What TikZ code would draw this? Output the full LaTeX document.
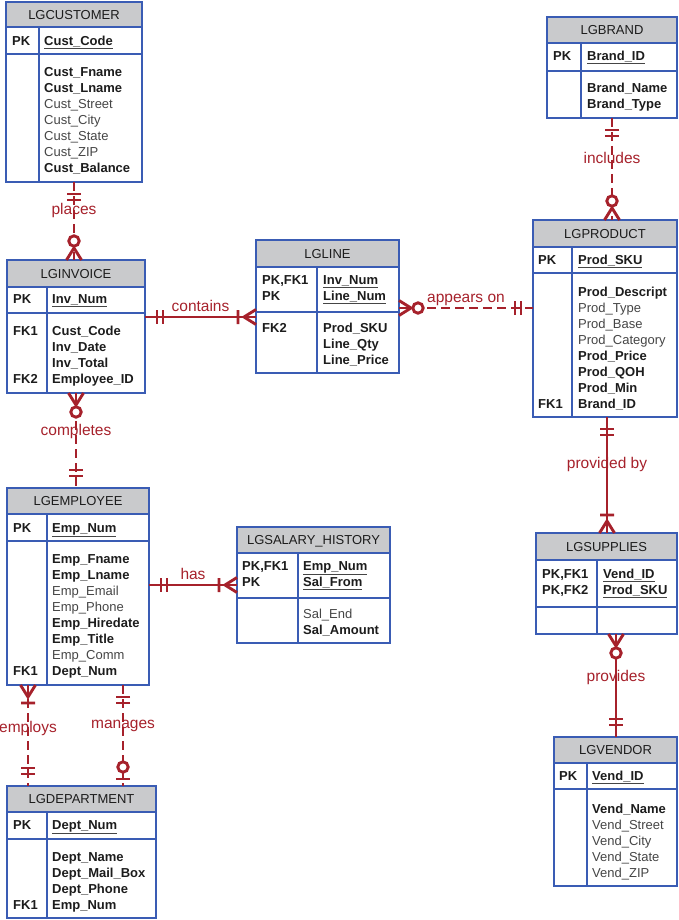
\documentclass[tikz,border=0pt]{standalone}
\usepackage{fontspec}
\setmainfont{Liberation Sans}
\definecolor{ebl}{HTML}{3A5CB4}
\definecolor{hdr}{HTML}{C9CACC}
\definecolor{relred}{HTML}{A6212B}
\definecolor{txt}{HTML}{1C1C1C}
\definecolor{attgray}{HTML}{454545}
\newcommand{\bd}[1]{\textbf{\color{txt}#1}}
\newcommand{\pkey}[1]{\underline{\textbf{\color{txt}#1}}}
% frame of a table: x1, top, x2, header bottom, key bottom, bottom, divider
\newcommand{\tablebox}[7]{%
  \draw[ebox,fill=hdr] (#1,#2) rectangle (#3,#4);
  \draw[ebox] (#1,#4) rectangle (#3,#6);
  \draw[ebox] (#1,#5) -- (#3,#5) (#7,#4) -- (#7,#6);}
% line ends: point at the table edge, direction away from it
\newcommand{\oneonly}[2]{\begin{scope}[shift={(#1)},rotate=#2]
  \draw[rel] (12,-7) -- (12,7) (18,-7) -- (18,7);
\end{scope}}
\newcommand{\onemany}[2]{\begin{scope}[shift={(#1)},rotate=#2]
  \draw[rel] (0,-7.5) -- (12,0) -- (0,7.5) (18,-7) -- (18,7);
\end{scope}}
\newcommand{\zeromany}[2]{\begin{scope}[shift={(#1)},rotate=#2]
  \draw[rel] (0,-7.5) -- (12,0) -- (0,7.5);
  \draw[rel,fill=white] (19,0) circle [radius=5.2pt];
\end{scope}}
\newcommand{\zeroone}[2]{\begin{scope}[shift={(#1)},rotate=#2]
  \draw[rel] (7,-7) -- (7,7);
  \draw[rel,fill=white] (19,0) circle [radius=5.2pt];
\end{scope}}
\tikzset{
  ebox/.style={draw=ebl,line width=1.9pt},
  title/.style={anchor=base,inner sep=0pt,font=\fontsize{13}{16}\selectfont,text=txt},
  key/.style={anchor=base west,inner sep=0pt,font=\fontsize{13}{16}\selectfont\bfseries,text=txt},
  att/.style={anchor=base west,inner sep=0pt,font=\fontsize{13}{16}\selectfont,text=attgray},
  rel/.style={draw=relred,line width=2.9pt},
  nonid/.style={rel,dash pattern=on 9pt off 5pt},
  lbl/.style={font=\fontsize{15.5}{18}\selectfont,text=relred,inner sep=1pt},
  lblup/.style={lbl,anchor=base,yshift=6pt},
}
\begin{document}
\begin{tikzpicture}[x=1pt,y=-1pt]
\useasboundingbox (0,0) rectangle (679,920);

% LGCUSTOMER
\tablebox{6}{2}{142}{27}{54}{182}{39}
\node[title] (cust) at (74,19.2) {LGCUSTOMER};
\node[key] (cust-k) at (12,45.5) {PK};
\node[att] (cust-p) at (44,45.5) {\pkey{Cust\_Code}};
\foreach \t [count=\i from 0] in {\bd{Cust\_Fname},\bd{Cust\_Lname},Cust\_Street,Cust\_City,Cust\_State,Cust\_ZIP,\bd{Cust\_Balance}}
  \node[att] (cust-a\i) at (44,76.5+16*\i) {\t};

% LGINVOICE
\tablebox{7}{260}{145}{287}{313}{393}{47}
\node[title] (inv) at (76,278.2) {LGINVOICE};
\node[key] (inv-k) at (13,303.5) {PK};
\node[att] (inv-p) at (52,303.5) {\pkey{Inv\_Num}};
\node[key] (inv-f1) at (13,335.5) {FK1};
\node[key] (inv-f2) at (13,383.5) {FK2};
\foreach \t [count=\i from 0] in {\bd{Cust\_Code},\bd{Inv\_Date},\bd{Inv\_Total},\bd{Employee\_ID}}
  \node[att] (inv-a\i) at (52,335.5+16*\i) {\t};

% LGLINE
\tablebox{256}{240}{399}{267}{312}{373}{317}
\node[title] (line) at (327.5,258.2) {LGLINE};
\node[key] (line-k1) at (262,284.5) {PK,FK1};
\node[key] (line-k2) at (262,300.5) {PK};
\node[att] (line-p1) at (323,284.5) {\pkey{Inv\_Num}};
\node[att] (line-p2) at (323,300.5) {\pkey{Line\_Num}};
\node[key] (line-f2) at (262,332.5) {FK2};
\foreach \t [count=\i from 0] in {\bd{Prod\_SKU},\bd{Line\_Qty},\bd{Line\_Price}}
  \node[att] (line-a\i) at (323,332.5+16*\i) {\t};

% LGBRAND
\tablebox{547}{17}{677}{43}{71}{118}{581}
\node[title] (brand) at (612,34.7) {LGBRAND};
\node[key] (brand-k) at (553,60.5) {PK};
\node[att] (brand-p) at (587,60.5) {\pkey{Brand\_ID}};
\foreach \t [count=\i from 0] in {\bd{Brand\_Name},\bd{Brand\_Type}}
  \node[att] (brand-a\i) at (587,92.5+16*\i) {\t};

% LGPRODUCT
\tablebox{533}{220}{677}{247}{273}{417}{572}
\node[title] (prod) at (605,238.2) {LGPRODUCT};
\node[key] (prod-k) at (538,264) {PK};
\node[att] (prod-p) at (578,264) {\pkey{Prod\_SKU}};
\node[key] (prod-f1) at (538,408) {FK1};
\foreach \t [count=\i from 0] in {\bd{Prod\_Descript},Prod\_Type,Prod\_Base,Prod\_Category,\bd{Prod\_Price},\bd{Prod\_QOH},\bd{Prod\_Min},\bd{Brand\_ID}}
  \node[att] (prod-a\i) at (578,296+16*\i) {\t};

% LGSUPPLIES
\tablebox{536}{533}{677}{560}{607}{634}{597}
\node[title] (sup) at (606.5,551.2) {LGSUPPLIES};
\node[key] (sup-k1) at (542,578) {PK,FK1};
\node[key] (sup-k2) at (542,594) {PK,FK2};
\node[att] (sup-p1) at (603,578) {\pkey{Vend\_ID}};
\node[att] (sup-p2) at (603,594) {\pkey{Prod\_SKU}};

% LGVENDOR
\tablebox{554}{737}{677}{763}{789}{886}{587}
\node[title] (vend) at (615.5,754.7) {LGVENDOR};
\node[key] (vend-k) at (559,780.5) {PK};
\node[att] (vend-p) at (592,780.5) {\pkey{Vend\_ID}};
\foreach \t [count=\i from 0] in {\bd{Vend\_Name},Vend\_Street,Vend\_City,Vend\_State,Vend\_ZIP}
  \node[att] (vend-a\i) at (592,813+16*\i) {\t};

% LGEMPLOYEE
\tablebox{7}{488}{149}{514}{541}{685}{47}
\node[title] (emp) at (78,505.7) {LGEMPLOYEE};
\node[key] (emp-k) at (13,532) {PK};
\node[att] (emp-p) at (52,532) {\pkey{Emp\_Num}};
\node[key] (emp-f1) at (13,675.5) {FK1};
\foreach \t [count=\i from 0] in {\bd{Emp\_Fname},\bd{Emp\_Lname},Emp\_Email,Emp\_Phone,\bd{Emp\_Hiredate},\bd{Emp\_Title},Emp\_Comm,\bd{Dept\_Num}}
  \node[att] (emp-a\i) at (52,563.5+16*\i) {\t};

% LGSALARY_HISTORY
\tablebox{237}{527}{390}{553}{598}{643}{298}
\node[title] (sal) at (313.5,544.7) {LGSALARY\_HISTORY};
\node[key] (sal-k1) at (242,570.5) {PK,FK1};
\node[key] (sal-k2) at (242,586.5) {PK};
\node[att] (sal-p1) at (303,570.5) {\pkey{Emp\_Num}};
\node[att] (sal-p2) at (303,586.5) {\pkey{Sal\_From}};
\node[att] (sal-a0) at (303,618) {Sal\_End};
\node[att] (sal-a1) at (303,634) {\bd{Sal\_Amount}};

% LGDEPARTMENT
\tablebox{7}{786}{156}{812}{839}{918}{47}
\node[title] (dept) at (81.5,803.7) {LGDEPARTMENT};
\node[key] (dept-k) at (13,829.5) {PK};
\node[att] (dept-p) at (52,829.5) {\pkey{Dept\_Num}};
\node[key] (dept-f1) at (13,909) {FK1};
\foreach \t [count=\i from 0] in {\bd{Dept\_Name},\bd{Dept\_Mail\_Box},\bd{Dept\_Phone},\bd{Emp\_Num}}
  \node[att] (dept-a\i) at (52,861+16*\i) {\t};

% ends of the relationship lines
\coordinate (cust-s) at (74,182);
\coordinate (inv-n) at (74,260);
\coordinate (inv-e) at (145,317);
\coordinate (line-w) at (256,317);
\coordinate (line-e) at (399,308);
\coordinate (prod-w) at (533,308);
\coordinate (brand-s) at (612,118);
\coordinate (prod-n) at (612,220);
\coordinate (inv-s) at (76,393);
\coordinate (emp-n) at (76,488);
\coordinate (emp-e) at (149,585);
\coordinate (sal-w) at (237,585);
\coordinate (emp-sw) at (28,685);
\coordinate (dept-nw) at (28,786);
\coordinate (emp-se) at (123,685);
\coordinate (dept-ne) at (123,786);
\coordinate (prod-s) at (607,417);
\coordinate (sup-n) at (607,533);
\coordinate (sup-s) at (616,634);
\coordinate (vend-n) at (616,737);

% relationships
\draw[nonid] (cust-s) -- node[lbl,pos=.37] {places} (inv-n);
\draw[rel] (inv-e) -- node[lblup] {contains} (line-w);
\draw[nonid] (line-e) -- node[lblup] {appears on} (prod-w);
\draw[nonid] (brand-s) -- node[lbl,pos=.39] {includes} (prod-n);
\draw[nonid] (inv-s) -- node[lbl,pos=.41] {completes} (emp-n);
\draw[rel] (emp-e) -- node[lblup] {has} (sal-w);
\draw[nonid] (emp-sw) -- node[lbl,pos=.43] {employs} (dept-nw);
\draw[nonid] (emp-se) -- node[lbl,pos=.41] {manages} (dept-ne);
\draw[rel] (prod-s) -- node[lbl,pos=.41] {provided by} (sup-n);
\draw[rel] (sup-s) -- node[lbl,pos=.42] {provides} (vend-n);

\oneonly{cust-s}{-90}
\zeromany{inv-n}{90}
\oneonly{inv-e}{0}
\onemany{line-w}{180}
\zeromany{line-e}{0}
\oneonly{prod-w}{180}
\oneonly{brand-s}{-90}
\zeromany{prod-n}{90}
\zeromany{inv-s}{-90}
\oneonly{emp-n}{90}
\oneonly{emp-e}{0}
\onemany{sal-w}{180}
\onemany{emp-sw}{-90}
\oneonly{dept-nw}{90}
\oneonly{emp-se}{-90}
\zeroone{dept-ne}{90}
\oneonly{prod-s}{-90}
\onemany{sup-n}{90}
\zeromany{sup-s}{-90}
\oneonly{vend-n}{90}
\end{tikzpicture}
\end{document}
